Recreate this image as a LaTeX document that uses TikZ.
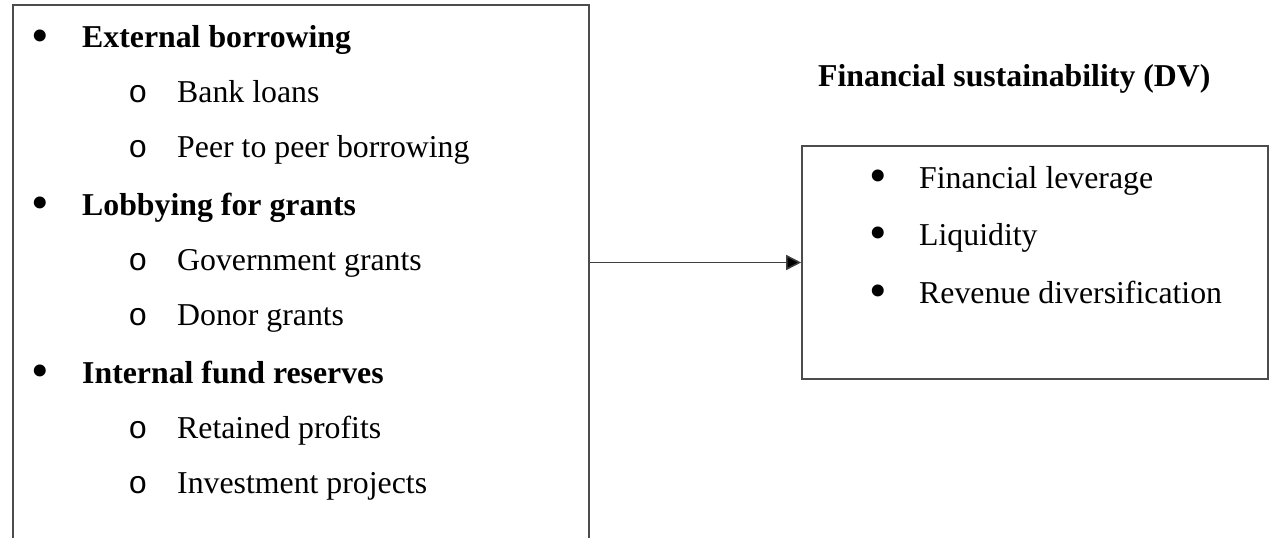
\documentclass[tikz,border=0pt]{standalone}
\usepackage{fontspec}
\setmainfont{Liberation Serif}
\newfontfamily\monof{Liberation Mono}
\usetikzlibrary{arrows.meta}
\begin{document}
\begin{tikzpicture}[x=1pt,y=-1pt,
  boxline/.style={draw=black!70, line width=1.6pt, rectangle, inner sep=0pt},
  txt/.style={anchor=base west, inner sep=0pt, font=\fontsize{31.8}{38}\selectfont},
  btxt/.style={anchor=base west, inner sep=0pt, font=\fontsize{31.8}{38}\selectfont\bfseries},
  dotb/.style={anchor=base, inner sep=0pt, font=\fontsize{50}{56}\selectfont},
  circb/.style={anchor=base, inner sep=0pt, font=\fontsize{31.8}{38}\selectfont\monof},
  conn/.style={draw=black!75, line width=1.5pt, -{Triangle[length=15pt,width=15pt,fill=black]}}
]
\useasboundingbox (0,0) rectangle (1269,538);
\clip (0,0) rectangle (1269,538);
% boxes
\node[boxline, minimum width=576pt, minimum height=575pt] (L) at (301,292.5) {};
\node[boxline, minimum width=466pt, minimum height=233pt] (R) at (1035,262.5) {};
% left list
\node[dotb] (b1) at (40,52) {•};
\node[btxt] (t1) at (82,47.5) {External borrowing};
\node[circb] (c1) at (138,102) {o};
\node[txt] (t2) at (177,102) {Bank loans};
\node[circb] (c2) at (138,157) {o};
\node[txt] (t3) at (177,157) {Peer to peer borrowing};
\node[dotb] (b2) at (40,219.5) {•};
\node[btxt] (t4) at (82,215) {Lobbying for grants};
\node[circb] (c3) at (138,270) {o};
\node[txt] (t5) at (177,270) {Government grants};
\node[circb] (c4) at (138,325) {o};
\node[txt] (t6) at (177,325) {Donor grants};
\node[dotb] (b3) at (40,387.5) {•};
\node[btxt] (t7) at (82,383) {Internal fund reserves};
\node[circb] (c5) at (138,438) {o};
\node[txt] (t8) at (177,438) {Retained profits};
\node[circb] (c6) at (138,493) {o};
\node[txt] (t9) at (177,493) {Investment projects};
% title
\node[btxt] (title) at (818,86) {Financial sustainability (DV)};
% right list
\node[dotb] (d1) at (878,192.5) {•};
\node[txt] (r1) at (919,188) {Financial leverage};
\node[dotb] (d2) at (878,249.5) {•};
\node[txt] (r2) at (919,245) {Liquidity};
\node[dotb] (d3) at (878,307.5) {•};
\node[txt] (r3) at (919,303) {Revenue diversification};
% connector
\draw[conn] (L.east |- R.west) -- (R.west);
\end{tikzpicture}
\end{document}
